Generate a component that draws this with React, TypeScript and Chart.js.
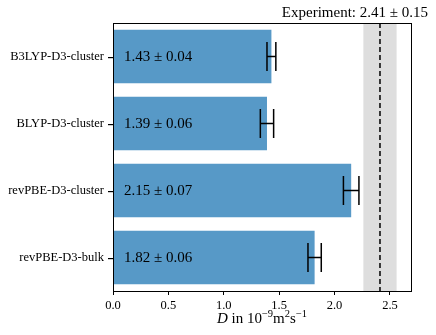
import React, { useEffect, useRef } from "react";
import { Chart, registerables } from "chart.js";

Chart.register(...registerables);

const categories = ["B3LYP-D3-cluster", "BLYP-D3-cluster", "revPBE-D3-cluster", "revPBE-D3-bulk"];
const values = [1.43, 1.39, 2.15, 1.82];
const errors = [0.04, 0.06, 0.07, 0.06];
const labelTexts = ["1.43 ± 0.04", "1.39 ± 0.06", "2.15 ± 0.07", "1.82 ± 0.06"];
const experimentValue = 2.41;
const experimentError = 0.15;
const xTicks = [0, 0.5, 1.0, 1.5, 2.0, 2.5];
const xMax = 2.69;

const SERIF = "'Liberation Serif', 'DejaVu Serif', serif";

const overlayPlugin = {
  id: "overlay",
  beforeDatasetsDraw(chart: any) {
    const { ctx, chartArea, scales } = chart;
    const x = scales.x;
    ctx.save();
    const x0 = x.getPixelForValue(experimentValue - experimentError);
    const x1 = x.getPixelForValue(experimentValue + experimentError);
    ctx.fillStyle = "#dedede";
    ctx.fillRect(x0, chartArea.top, x1 - x0, chartArea.bottom - chartArea.top);
    const xm = x.getPixelForValue(experimentValue);
    ctx.strokeStyle = "#000";
    ctx.lineWidth = 1.5;
    ctx.setLineDash([5, 3]);
    ctx.beginPath();
    ctx.moveTo(xm, chartArea.top);
    ctx.lineTo(xm, chartArea.bottom);
    ctx.stroke();
    ctx.restore();
  },
  afterDraw(chart: any) {
    const { ctx, chartArea, scales } = chart;
    const x = scales.x;
    const y = scales.y;
    ctx.save();
    // error bars
    ctx.strokeStyle = "#000";
    ctx.lineWidth = 1.5;
    ctx.setLineDash([]);
    values.forEach((v, i) => {
      const yc = y.getPixelForValue(i);
      const xl = x.getPixelForValue(v - errors[i]);
      const xr = x.getPixelForValue(v + errors[i]);
      const cap = 14.5;
      ctx.beginPath();
      ctx.moveTo(xl, yc);
      ctx.lineTo(xr, yc);
      ctx.moveTo(xl, yc - cap);
      ctx.lineTo(xl, yc + cap);
      ctx.moveTo(xr, yc - cap);
      ctx.lineTo(xr, yc + cap);
      ctx.stroke();
    });
    // y tick marks
    ctx.fillStyle = "#000";
    categories.forEach((_, i) => {
      const yc = Math.round(y.getPixelForValue(i));
      ctx.fillRect(Math.round(chartArea.left) - 5, yc, 5, 1.2);
    });
    // bar labels
    ctx.font = "15px " + SERIF;
    ctx.textAlign = "left";
    ctx.textBaseline = "middle";
    labelTexts.forEach((t, i) => {
      ctx.fillText(t, x.getPixelForValue(0.1), y.getPixelForValue(i) + 1);
    });
    // frame
    ctx.lineWidth = 1;
    ctx.strokeStyle = "#000";
    ctx.strokeRect(
      Math.round(chartArea.left) + 0.5,
      Math.round(chartArea.top) + 0.5,
      Math.round(chartArea.right - chartArea.left),
      Math.round(chartArea.bottom - chartArea.top)
    );
    // title
    ctx.font = "15px " + SERIF;
    ctx.textAlign = "right";
    ctx.textBaseline = "alphabetic";
    ctx.fillText("Experiment: 2.41 ± 0.15", chartArea.right + 17, chartArea.top - 6);
    // axis title with superscripts
    const parts: { t: string; font: string; dy: number }[] = [
      { t: "D", font: "italic 15px " + SERIF, dy: 0 },
      { t: " in 10", font: "15px " + SERIF, dy: 0 },
      { t: "−9", font: "10.5px " + SERIF, dy: -6 },
      { t: "m", font: "15px " + SERIF, dy: 0 },
      { t: "2", font: "10.5px " + SERIF, dy: -6 },
      { t: "s", font: "15px " + SERIF, dy: 0 },
      { t: "−1", font: "10.5px " + SERIF, dy: -6 },
    ];
    let total = 0;
    parts.forEach((p) => {
      ctx.font = p.font;
      total += ctx.measureText(p.t).width;
    });
    let cx = (chartArea.left + chartArea.right) / 2 - total / 2;
    const baseY = chartArea.bottom + 32;
    ctx.textAlign = "left";
    parts.forEach((p) => {
      ctx.font = p.font;
      ctx.fillText(p.t, cx, baseY + p.dy);
      cx += ctx.measureText(p.t).width;
    });
    ctx.restore();
  },
};

export default function App() {
  const ref = useRef<HTMLCanvasElement | null>(null);
  useEffect(() => {
    document.body.style.margin = "0";
    const canvas = ref.current!;
    const chart = new Chart(canvas, {
      type: "bar",
      data: {
        labels: categories,
        datasets: [
          {
            data: values,
            backgroundColor: "rgba(31,119,180,0.75)",
            borderWidth: 0,
            barPercentage: 0.8,
            categoryPercentage: 1.0,
          },
        ],
      },
      options: {
        indexAxis: "y",
        animation: false,
        responsive: false,
        devicePixelRatio: 1,
        layout: { padding: { top: 23, right: 25, left: 0, bottom: 0 } },
        plugins: {
          legend: { display: false },
          tooltip: { enabled: false },
          title: { display: false },
        },
        scales: {
          x: {
            type: "linear",
            min: 0,
            max: xMax,
            afterBuildTicks: (scale: any) => {
              scale.ticks = xTicks.map((v) => ({ value: v }));
            },
            afterFit: (scale: any) => {
              scale.height = 44;
            },
            ticks: {
              includeBounds: false,
              color: "#000",
              font: { family: SERIF, size: 12.5 },
              padding: 3,
              maxRotation: 0,
              callback: (v: any) => Number(v).toFixed(1),
            },
            grid: {
              display: true,
              drawOnChartArea: false,
              drawTicks: true,
              tickLength: 4,
              color: "#000",
            },
            border: { display: true, color: "#000", width: 1 },
          },
          y: {
            afterFit: (scale: any) => {
              scale.width = 113;
            },
            ticks: {
              color: "#000",
              font: { family: SERIF, size: 12.5 },
              padding: 9,
            },
            grid: {
              display: false,
              drawTicks: false,
            },
            border: { display: true, color: "#000", width: 1 },
          },
        },
      } as any,
      plugins: [overlayPlugin],
    });
    return () => chart.destroy();
  }, []);
  return (
    <div style={{ position: "absolute", left: 0, top: 0, width: 436, height: 335 }}>
      <canvas ref={ref} width={436} height={335} />
    </div>
  );
}
